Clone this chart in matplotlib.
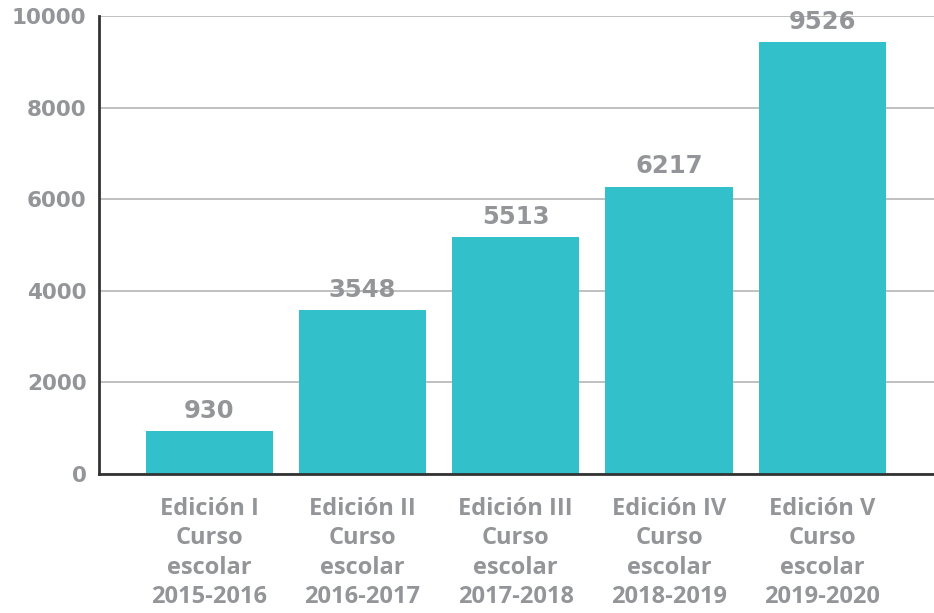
import matplotlib
matplotlib.use("Agg")
import matplotlib.pyplot as plt

# categories and values
categories = ["Edición I\nCurso\nescolar\n2015-2016",
              "Edición II\nCurso\nescolar\n2016-2017",
              "Edición III\nCurso\nescolar\n2017-2018",
              "Edición IV\nCurso\nescolar\n2018-2019",
              "Edición V\nCurso\nescolar\n2019-2020"]
bar_heights = [930, 3580, 5170, 6270, 9430]   # as drawn in the picture
value_labels = ["930", "3548", "5513", "6217", "9526"]
yticks = [0, 2000, 4000, 6000, 8000, 10000]

bar_col = '#32c0cb'
txt_col = '#939598'
plt.rcParams['font.family'] = ['DejaVu Sans']

fig = plt.figure(figsize=(9.34, 6.13), dpi=100)
ax = fig.add_axes([0.106, 0.2268, 0.894, 0.7472])

x = range(len(categories))
ax.bar(x, bar_heights, width=0.83, color=bar_col, zorder=3)
for xi, h, lab in zip(x, bar_heights, value_labels):
    ax.annotate(lab, (xi, h), xytext=(0, 6), textcoords='offset points',
                ha='center', va='bottom', fontsize=17.5, fontweight='bold',
                color=txt_col, zorder=4)

ax.set_xlim(-0.72, 4.73)
ax.set_ylim(0, 10000)
ax.set_yticks(yticks)
ax.set_yticklabels([str(t) for t in yticks], fontsize=15.5, fontweight='bold', color=txt_col)
ax.set_xticks(list(x))
ax.set_xticklabels(categories, fontsize=17, fontweight='bold', color=txt_col,
                   family=['Open Sans', 'DejaVu Sans'], linespacing=1.3)
ax.tick_params(axis='both', length=0)
ax.tick_params(axis='y', pad=9)
ax.tick_params(axis='x', pad=16.5)

ax.grid(axis='y', color='#b5b5b5', linewidth=1.2, zorder=0)
for s in ['top', 'right']:
    ax.spines[s].set_visible(False)
ax.spines['left'].set_color('#333333')
ax.spines['left'].set_linewidth(2)
ax.spines['bottom'].set_color('#333333')
ax.spines['bottom'].set_linewidth(2)
ax.spines['left'].set_zorder(5)
ax.spines['bottom'].set_zorder(5)

fig.savefig('out.png', dpi=100)
